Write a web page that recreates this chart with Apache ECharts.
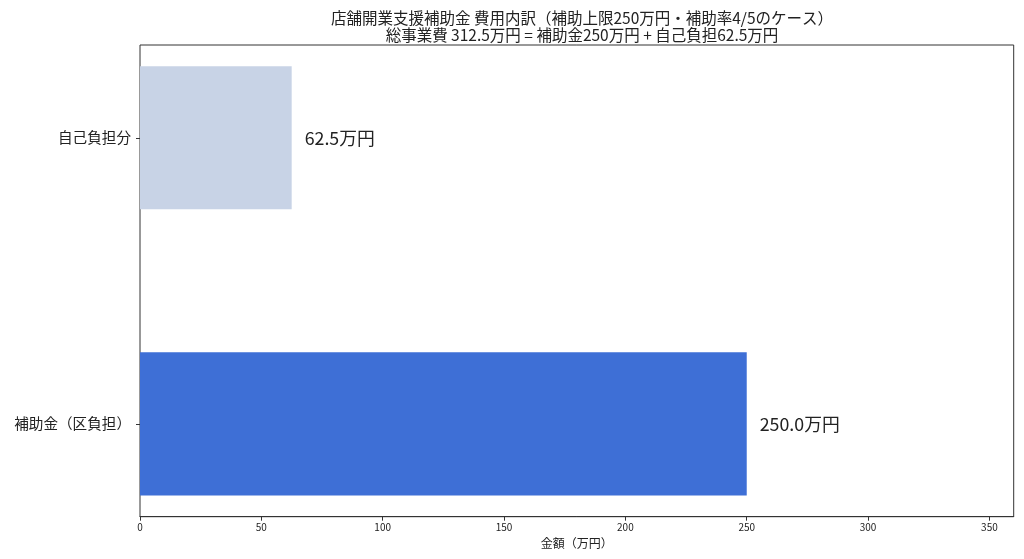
<!DOCTYPE html>
<html><head><meta charset="utf-8">
<script src="https://cdn.jsdelivr.net/npm/echarts@6/dist/echarts.min.js"></script>
<style>html,body{margin:0;padding:0;background:#fff}#c{width:1024px;height:559px}</style>
</head><body><div id="c"></div>
<script>
const titleLine1 = '店舗開業支援補助金 費用内訳（補助上限250万円・補助率4/5のケース）';
const titleLine2 = '総事業費 312.5万円 = 補助金250万円 + 自己負担62.5万円';
const categories = ['補助金（区負担）', '自己負担分'];
const values = [250, 62.5];
const xTicks = [0, 50, 100, 150, 200, 250, 300, 350];
const xMax = 360;
const xName = '金額（万円）';
const barColors = ['#3e6fd6', '#c8d3e6'];

const FONT = 'Noto Sans CJK JP';
const chart = echarts.init(document.getElementById('c'), null, {renderer: 'canvas'});
const plotLeft = 140, plotRight = 10.3, plotTop = 45, plotBottom = 42.3;
chart.setOption({
  backgroundColor: '#fff',
  textStyle: {fontFamily: FONT},
  title: {
    text: titleLine1 + '\n' + titleLine2,
    left: 577, top: 5, textAlign: 'center',
    textStyle: {fontFamily: FONT, fontSize: 15.5, fontWeight: 'normal', color: '#222', lineHeight: 17}
  },
  grid: [
    {left: plotLeft, right: plotRight, top: plotTop, bottom: plotBottom, show: true, borderColor: '#333', borderWidth: 1, backgroundColor: 'transparent', outerBoundsMode: 'none'},
    {left: plotLeft, right: plotRight, top: -5.2, bottom: -7.9, outerBoundsMode: 'none'}
  ],
  xAxis: [
    {gridIndex: 0, type: 'value', min: 0, max: xMax,
     axisLine: {show: true, lineStyle: {color: '#333', width: 1}},
     axisTick: {show: true, length: 4, customValues: xTicks, lineStyle: {color: '#333'}},
     axisLabel: {fontSize: 10, color: '#222', margin: 6, customValues: xTicks, fontFamily: FONT},
     splitLine: {show: false},
     name: xName, nameLocation: 'middle', nameGap: 20,
     nameTextStyle: {fontSize: 12, color: '#222', fontFamily: FONT}},
    {gridIndex: 1, type: 'value', min: 0, max: xMax, show: false}
  ],
  yAxis: [
    {gridIndex: 0, type: 'value', show: false, min: 0, max: 1},
    {gridIndex: 1, type: 'category', data: categories,
     axisLine: {show: false},
     axisTick: {show: true, alignWithLabel: true, length: 4, lineStyle: {color: '#333'}},
     axisLabel: {fontSize: 14.6, color: '#222', margin: 9, fontFamily: FONT},
     splitLine: {show: false}}
  ],
  series: [{
    type: 'bar', xAxisIndex: 1, yAxisIndex: 1,
    barWidth: '50%',
    data: values.map((v, i) => ({value: v, itemStyle: {color: barColors[i]}})),
    label: {show: true, position: 'right', distance: 13, fontSize: 17.8, color: '#222', fontFamily: FONT,
            formatter: p => p.value.toFixed(1) + '万円'},
    animation: false
  }],
  animation: false
});
</script></body></html>
